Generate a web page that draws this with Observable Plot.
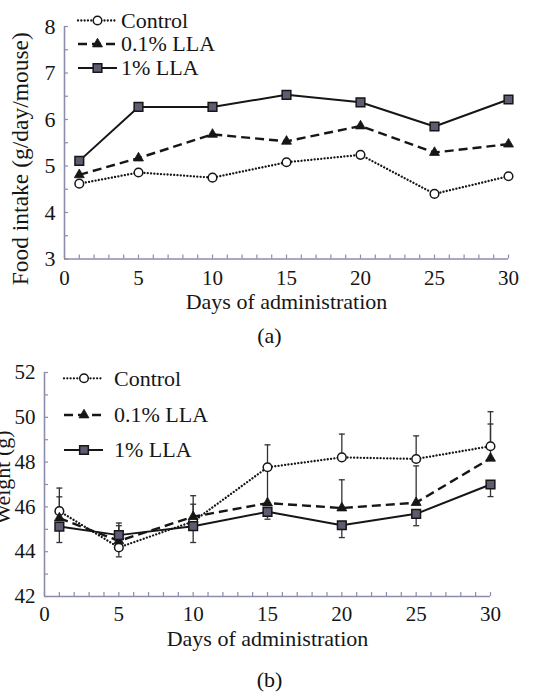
<!DOCTYPE html>
<html><head><meta charset="utf-8">
<script src="https://cdn.jsdelivr.net/npm/d3@7"></script>
<script src="https://cdn.jsdelivr.net/npm/@observablehq/plot@0.6"></script>
<style>
body{margin:0;background:#fff}
#wrap{position:relative;width:539px;height:693px;overflow:hidden;font-family:"Liberation Serif",serif;color:#111;background:#fff}
.panel{position:absolute;left:0}
.cap{position:absolute;left:0;width:539px;text-align:center;font-size:22px;line-height:22px}
svg text{font-family:"Liberation Serif",serif}
</style></head><body>
<div id="wrap">
<div id="pa" class="panel" style="top:0"></div>
<div class="cap" style="top:325px">(a)</div>
<div id="pb" class="panel" style="top:350px"></div>
<div class="cap" style="top:669px">(b)</div>
</div>
<script>
// ---- data ----
const days = [1, 5, 10, 15, 20, 25, 30];
const seriesNames = ["Control", "0.1% LLA", "1% LLA"];
const xTickLabels = [0, 5, 10, 15, 20, 25, 30];

// (a) food intake, g/day/mouse
const intakeControl = [4.62, 4.86, 4.75, 5.08, 5.24, 4.40, 4.78];
const intakeLLA01   = [4.81, 5.17, 5.68, 5.53, 5.86, 5.29, 5.47];
const intakeLLA1    = [5.11, 6.27, 6.27, 6.53, 6.37, 5.85, 6.43];
const intakeYTicks  = [3, 4, 5, 6, 7, 8];

// (b) body weight, g, with error-bar end values
const weightControl = [45.81, 44.19, 45.35, 47.77, 48.21, 48.14, 48.71];
const weightLLA01   = [45.50, 44.48, 45.56, 46.17, 45.95, 46.19, 48.17];
const weightLLA1    = [45.12, 44.74, 45.14, 45.78, 45.18, 45.69, 47.00];
const barEndControl = [46.84, 43.77, 46.50, 48.77, 49.25, 49.17, 50.25];
const barEndLLA01   = [46.45, 45.16, 46.12, 47.70, 47.21, 47.83, 49.70];
const barEndLLA1    = [44.41, 45.28, 44.41, 45.45, 44.63, 45.16, 46.46];
const weightYTicks  = [42, 44, 46, 48, 50, 52];

// ---- styles ----
const FONT = '"Liberation Serif", serif';
const axisColor = "#8c8cab";
const ink = "#161616";
const styles = {
  "Control":  {dash: "0.01,3.3", cap: "round", width: 2.3, symbol: "circle",   fill: "#fff",    r: 4.3, sw: 1.5},
  "0.1% LLA": {dash: "9,5",      cap: "butt",  width: 2.4, symbol: "triangle", fill: ink,       r: 3.7, sw: 0.8},
  "1% LLA":   {dash: null,       cap: "butt",  width: 2.0, symbol: "square",   fill: "#5c5c72", r: 4.9, sw: 1.5}
};
const capSymbol = {draw(ctx) { ctx.moveTo(-3, 0); ctx.lineTo(3, 0); }};

function rows(values, name, ends) {
  return days.map((d, i) => ({day: d, value: values[i], series: name, end: ends ? ends[i] : null}));
}

function seriesMarks(data) {
  const marks = [];
  for (const name of seriesNames) {
    const s = styles[name];
    marks.push(Plot.line(data[name], {x: "day", y: "value", stroke: ink, strokeWidth: s.width,
      strokeDasharray: s.dash, strokeLinecap: s.cap, strokeLinejoin: "round"}));
  }
  for (const name of seriesNames) {
    const s = styles[name];
    marks.push(Plot.dot(data[name], {x: "day", y: "value", symbol: s.symbol, r: s.r,
      fill: s.fill, stroke: ink, strokeWidth: s.sw}));
  }
  return marks;
}

function frameMarks(xDomain, yDomain, yMinor, plotW, plotH) {
  return [
    Plot.tickX(d3.range(xDomain[0], xDomain[1] + 1), {x: d => d, stroke: axisColor, strokeWidth: 1.2, insetTop: plotH - 4}),
    Plot.tickY(yMinor, {y: d => d, stroke: axisColor, strokeWidth: 1.2, insetRight: plotW - 4}),
    Plot.ruleY([yDomain[0]], {stroke: axisColor, strokeWidth: 1.6}),
    Plot.ruleX([xDomain[0]], {stroke: axisColor, strokeWidth: 1.6})
  ];
}

function addLegend(svg, cfg) {
  const g = d3.select(svg).append("g");
  seriesNames.forEach((name, i) => {
    const s = styles[name];
    const y = cfg.rows[i];
    g.append("line").attr("x1", cfg.x1).attr("x2", cfg.x2).attr("y1", y).attr("y2", y)
      .attr("stroke", ink).attr("stroke-width", s.width)
      .attr("stroke-dasharray", s.dash).attr("stroke-linecap", s.cap);
    const symType = {circle: d3.symbolCircle, triangle: d3.symbolTriangle, square: d3.symbolSquare}[s.symbol];
    g.append("path").attr("d", d3.symbol(symType, Math.PI * s.r * s.r)())
      .attr("transform", `translate(${cfg.xm},${y})`)
      .attr("fill", s.fill).attr("stroke", ink).attr("stroke-width", s.sw);
    g.append("text").attr("x", cfg.xt).attr("y", y).attr("dy", "0.34em")
      .attr("text-anchor", "start").attr("font-size", 22).attr("fill", ink).text(name);
  });
}

function finish(svg) {
  svg.setAttribute("font-family", FONT);
  svg.style.fontFamily = FONT;
  d3.select(svg).selectAll("text").attr("font-family", FONT);
}

// ---- panel (a) ----
{
  const W = 539, H = 330, mt = 26, mb = 71.5, ml = 64, mr = 31;
  const data = {
    "Control": rows(intakeControl, "Control"),
    "0.1% LLA": rows(intakeLLA01, "0.1% LLA"),
    "1% LLA": rows(intakeLLA1, "1% LLA")
  };
  const svg = Plot.plot({
    width: W, height: H, marginTop: mt, marginBottom: mb, marginLeft: ml, marginRight: mr,
    style: {fontFamily: FONT, fontSize: "21px", color: ink, background: "#fff"},
    x: {domain: [0, 30]},
    y: {domain: [3, 8]},
    marks: [
      ...frameMarks([0, 30], [3, 8], d3.range(3, 8.01, 0.5), W - ml - mr, H - mt - mb),
      Plot.axisX({ticks: xTickLabels, tickSize: 0, tickPadding: 11, label: null, fontSize: 21, tickFormat: d3.format("d")}),
      Plot.axisY({ticks: intakeYTicks, tickSize: 0, tickPadding: 9, label: null, fontSize: 22, tickFormat: d3.format("d")}),
      Plot.text(["Days of administration"], {text: d => d, frameAnchor: "bottom", lineAnchor: "middle", textAnchor: "middle", dy: 43, fontSize: 22}),
      Plot.text(["Food intake (g/day/mouse)"], {text: d => d, frameAnchor: "left", rotate: -90, textAnchor: "middle", lineAnchor: "middle", dx: -44, dy: 16, fontSize: 23.5}),
      ...seriesMarks(data)
    ]
  });
  addLegend(svg, {rows: [20.5, 44, 68], x1: 78, x2: 117, xm: 97.5, xt: 121});
  finish(svg);
  document.getElementById("pa").appendChild(svg);
}

// ---- panel (b) ----
{
  const W = 539, H = 343, mt = 22, mb = 97, ml = 44, mr = 49;
  const data = {
    "Control": rows(weightControl, "Control", barEndControl),
    "0.1% LLA": rows(weightLLA01, "0.1% LLA", barEndLLA01),
    "1% LLA": rows(weightLLA1, "1% LLA", barEndLLA1)
  };
  const errs = seriesNames.flatMap(n => data[n]);
  const svg = Plot.plot({
    width: W, height: H, marginTop: mt, marginBottom: mb, marginLeft: ml, marginRight: mr,
    style: {fontFamily: FONT, fontSize: "21px", color: ink, background: "#fff"},
    x: {domain: [0, 30]},
    y: {domain: [42, 52]},
    marks: [
      ...frameMarks([0, 30], [42, 52], d3.range(42, 52.01, 1), W - ml - mr, H - mt - mb),
      Plot.axisX({ticks: xTickLabels, tickSize: 0, tickPadding: 10, label: null, fontSize: 21, tickFormat: d3.format("d")}),
      Plot.axisY({ticks: weightYTicks, tickSize: 0, tickPadding: 9, label: null, fontSize: 21, tickFormat: d3.format("d")}),
      Plot.text(["Days of administration"], {text: d => d, frameAnchor: "bottom", lineAnchor: "middle", textAnchor: "middle", dy: 42, fontSize: 22}),
      Plot.text(["Weight (g)"], {text: d => d, frameAnchor: "left", rotate: -90, textAnchor: "middle", lineAnchor: "middle", dx: -42, dy: -7, fontSize: 22}),
      Plot.ruleX(errs, {x: "day", y1: "value", y2: "end", stroke: "#333", strokeWidth: 1.3}),
      Plot.dot(errs, {x: "day", y: "end", symbol: capSymbol, fill: "none", stroke: "#333", strokeWidth: 1.3}),
      ...seriesMarks(data)
    ]
  });
  addLegend(svg, {rows: [28.3, 65, 100], x1: 64, x2: 103, xm: 84, xt: 114});
  finish(svg);
  document.getElementById("pb").appendChild(svg);
}
</script>
</body></html>
